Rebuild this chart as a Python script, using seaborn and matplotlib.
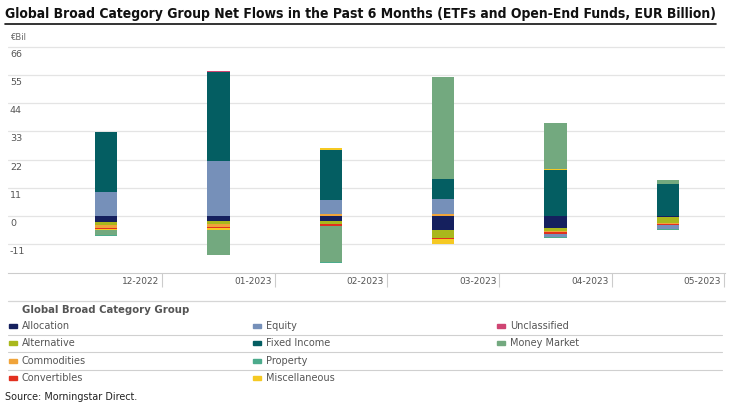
import numpy as np
import pandas as pd
import matplotlib
matplotlib.use("Agg")
import matplotlib.pyplot as plt
import seaborn as sns
from matplotlib.patches import Rectangle
from matplotlib.lines import Line2D


# Data (EUR billion)
months = ["12-2022", "01-2023", "02-2023", "03-2023", "04-2023", "05-2023"]
categories = ["Allocation", "Alternative", "Commodities", "Convertibles", "Equity",
              "Fixed Income", "Miscellaneous", "Money Market", "Property", "Unclassified"]

allocation = [-2.4, -1.7, -1.8, -5.5, -4.6, -0.2]
alternative = [-1.1, -1.5, -1.1, -2.8, -1.2, -2.3]
commodities = [-1.0, -1.2, 0.8, 0.8, -0.4, -0.5]
convertibles = [-0.4, -0.3, -0.8, -0.6, -0.6, -0.5]
equity = [9.3, 21.3, 5.4, 5.8, -1.2, -1.3]
fixed_income = [23.3, 34.6, 19.7, 7.8, 18.1, 12.7]
miscellaneous = [-0.3, -0.5, 0.8, -1.8, 0.4, -0.2]
money_market = [-2.3, -9.9, -14.2, 39.9, 17.9, 1.3]
property_ = [-0.3, 0.0, -0.2, -0.1, -0.5, -0.2]
unclassified = [0.2, 0.4, 0.0, 0.0, 0.0, 0.0]

y_ticks = [66, 55, 44, 33, 22, 11, 0, -11]

colors = {
    "Allocation": "#15205e",
    "Alternative": "#a9b81c",
    "Commodities": "#f0a43a",
    "Convertibles": "#e2301f",
    "Equity": "#7690b9",
    "Fixed Income": "#045e62",
    "Miscellaneous": "#f5c923",
    "Money Market": "#73a97f",
    "Property": "#4cab8c",
    "Unclassified": "#cf4573",
}

df = pd.DataFrame({
    "month": months,
    "Allocation": allocation,
    "Alternative": alternative,
    "Commodities": commodities,
    "Convertibles": convertibles,
    "Equity": equity,
    "Fixed Income": fixed_income,
    "Miscellaneous": miscellaneous,
    "Money Market": money_market,
    "Property": property_,
    "Unclassified": unclassified,
})

sns.set_theme(style="white")
plt.rcParams["font.family"] = ["DejaVu Sans"]

W, H = 732, 409
fig = plt.figure(figsize=(W / 100, H / 100), dpi=100)
ax = fig.add_axes([8 / W, 1 - 273 / H, 717 / W, 227 / H])

# stacked bars, positives and negatives stacked separately
pos_base = np.zeros(len(months))
neg_base = np.zeros(len(months))
for cat in categories:
    vals = df[cat].to_numpy(dtype=float)
    base = np.where(vals >= 0, pos_base, neg_base)
    sns.barplot(x=df["month"], y=vals, bottom=base, color=colors[cat], width=0.2,
                linewidth=0, saturation=1, ax=ax)
    pos_base += np.clip(vals, 0, None)
    neg_base += np.clip(vals, None, 0)

ax.set_xlim(-0.872, 5.507)
ax.set_ylim(-22.1, 66.2)
ax.set_xlabel("")
ax.set_ylabel("")

ax.set_yticks(y_ticks)
ax.yaxis.grid(True, color="#e4e4e4", lw=0.9)
ax.set_axisbelow(True)
ax.tick_params(axis="y", length=0, labelleft=False)
for v in y_ticks:
    ax.annotate(str(v), xy=(0, v), xycoords=("axes fraction", "data"),
                xytext=(2, -3), textcoords="offset pixels", ha="left", va="top",
                fontsize=6.8, color="#555555")

ax.set_xticks(np.arange(len(months)) + 0.5)
ax.set_xticklabels([])
ax.tick_params(axis="x", direction="out", length=10, width=0.8, color="#cccccc", bottom=True)
for i, m in enumerate(months):
    ax.annotate(m, xy=(i + 0.5, 0), xycoords=("data", "axes fraction"),
                xytext=(-3, -9), textcoords="offset pixels", ha="right", va="center",
                fontsize=6.5, color="#555555")

for s in ["top", "right", "left"]:
    ax.spines[s].set_visible(False)
ax.spines["bottom"].set_color("#cccccc")
ax.spines["bottom"].set_linewidth(0.8)

fig.text(10 / W, 1 - 38 / H, "€Bil", fontsize=6, color="#666666", va="center")


def fit_width(txt, target_px, size):
    # shrink/grow font so the text spans the wanted width
    for _ in range(3):
        txt.set_fontsize(size)
        fig.canvas.draw()
        w = txt.get_window_extent().width
        size = size * target_px / w
    txt.set_fontsize(size)
    fig.canvas.draw()


# title with underline
title = fig.text(5 / W, 1 - 14 / H,
                 "Global Broad Category Group Net Flows in the Past 6 Months (ETFs and Open-End Funds, EUR Billion)",
                 fontweight="bold", fontstretch="condensed", color="#111111", va="center")
fit_width(title, 715, 12)
bb = title.get_window_extent()
fig.add_artist(Line2D([bb.x0 / W, bb.x1 / W], [1 - 24 / H] * 2, color="#111111", lw=1.2))

# legend box
fig.add_artist(Line2D([8 / W, 725 / W], [1 - 301 / H] * 2, color="#d6d6d6", lw=0.9))
fig.text(22 / W, 1 - 310 / H, "Global Broad Category Group", fontsize=7.3,
         fontweight="bold", color="#555555", va="center")
for y in [334.5, 352, 369.5]:
    fig.add_artist(Line2D([8 / W, 722 / W], [1 - y / H] * 2, color="#d0d0d0", lw=0.8))

legend_cols = [
    ["Allocation", "Alternative", "Commodities", "Convertibles"],
    ["Equity", "Fixed Income", "Property", "Miscellaneous"],
    ["Unclassified", "Money Market"],
]
row_y = [326, 343, 360.5, 378]
col_x = [9, 253, 497]
for ci, col in enumerate(legend_cols):
    for ri, name in enumerate(col):
        x0 = col_x[ci]
        y0 = row_y[ri]
        fig.add_artist(Rectangle((x0 / W, 1 - (y0 + 2) / H), 8 / W, 4 / H,
                                 color=colors[name], transform=fig.transFigure))
        fig.text((x0 + 13) / W, 1 - y0 / H, name, fontsize=7, color="#555555", va="center")

source = fig.text(5 / W, 1 - 397 / H, "Source: Morningstar Direct.", fontstretch="condensed",
                  color="#222222", va="center")
fit_width(source, 132, 9)

fig.savefig("out.png", dpi=100)
